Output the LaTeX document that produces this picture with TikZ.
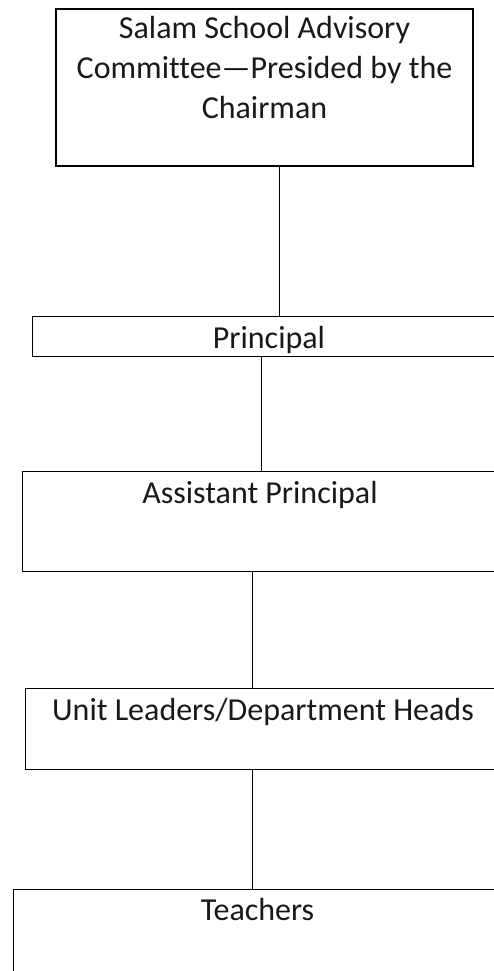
\documentclass[tikz,border=0pt]{standalone}
\usepackage{fontspec}
\setmainfont{Carlito}[Ligatures=NoCommon]
\begin{document}
\begin{tikzpicture}[x=1pt,y=-1pt,
  box/.style={draw=black,rectangle,inner sep=0pt,outer sep=0pt,line width=0.9pt,anchor=north west},
  thickbox/.style={box,line width=1.9pt},
  lbl/.style={anchor=base,inner sep=0pt,align=center,font=\fontsize{32}{39.5}\selectfont,text=black!90},
  conn/.style={draw=black,line width=0.9pt}]
\useasboundingbox (0,0) rectangle (494,971);
\clip (0,0) rectangle (494,971);
\fill[white] (0,0) rectangle (494,971);
% boxes
\node[thickbox,minimum width=417pt,minimum height=157pt] (top) at (56,9) {};
\node[box,minimum width=474pt,minimum height=40pt] (prin) at (32,316) {};
\node[box,minimum width=476pt,minimum height=100pt] (asst) at (22,471) {};
\node[box,minimum width=476pt,minimum height=81pt] (unit) at (25,688) {};
\node[box,minimum width=489pt,minimum height=120pt] (teach) at (13,889) {};
% labels
\node[lbl] (ttop) at (264.5,118) {Salam School Advisory\\Committee—Presided by the\\Chairman};
\node[lbl] (tprin) at (269,348) {Principal};
\node[lbl] (tasst) at (260,503) {Assistant Principal};
\node[lbl] (tunit) at (263,720) {Unit Leaders/Department Heads};
\node[lbl] (tteach) at (257.5,920) {Teachers};
% connector x positions
\coordinate (c1) at (279,0);
\coordinate (c2) at (261,0);
\coordinate (c3) at (252,0);
\draw[conn] (top.south -| c1) -- (prin.north -| c1);
\draw[conn] (prin.south -| c2) -- (asst.north -| c2);
\draw[conn] (asst.south -| c3) -- (unit.north -| c3);
\draw[conn] (unit.south -| c3) -- (teach.north -| c3);
\end{tikzpicture}
\end{document}
